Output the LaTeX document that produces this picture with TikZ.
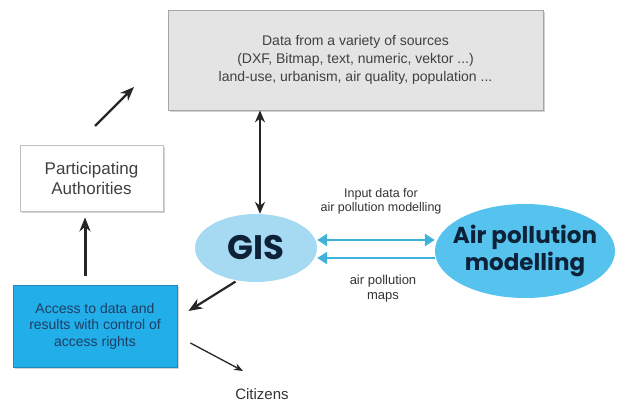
\documentclass[tikz,border=0pt]{standalone}
\usepackage{fontspec}
\setmainfont{Liberation Sans}
\newfontfamily\headfont{Poppins}[BoldFont={Poppins Bold}]
\usetikzlibrary{arrows.meta,shapes.geometric,shadows}
\definecolor{datagray}{RGB}{228,228,228}
\definecolor{gisblue}{RGB}{166,217,242}
\definecolor{apmblue}{RGB}{85,195,238}
\definecolor{accessblue}{RGB}{34,174,232}
\definecolor{navytext}{RGB}{13,34,56}
\definecolor{accesstext}{RGB}{30,62,100}
\definecolor{linkblue}{RGB}{62,178,216}
\begin{document}
\begin{tikzpicture}[x=1pt, y=-1pt,
                    box_style/.style={rectangle, draw=gray!70, line width=0.8pt, align=center, inner sep=0pt,
                                      drop shadow={opacity=0.35, shadow xshift=2pt, shadow yshift=-2pt}},
                    ellipse_style/.style={ellipse, draw=none, inner sep=0pt, align=center, text=navytext},
                    label_style/.style={align=center, font=\fontsize{12.5}{14}\selectfont, text=black!80},
                    arrow_style/.style={draw=black!85, line width=3pt, -{Stealth[length=14pt,width=11pt]}},
                    blue_arrow_style/.style={draw=linkblue, line width=2.4pt, {Triangle[length=10pt,width=12pt]}-{Triangle[length=10pt,width=12pt]}}]
                    \useasboundingbox (0,0) rectangle (618,406);
                    \node[box_style, fill=datagray, minimum width=375pt, minimum height=100pt,
                          font=\fontsize{14}{18}\selectfont, text=black!75] (data) at (355.5,60)
                          {Data from a variety of sources\\(DXF, Bitmap, text, numeric, vektor ...)\\land-use, urbanism, air quality, population ...};
                    \node[box_style, fill=white, draw=gray!50, minimum width=143pt, minimum height=66pt,
                          font=\fontsize{17}{20}\selectfont, text=black!75] (auth) at (91.5,178)
                          {Participating\\Authorities};
                    \node[box_style, fill=accessblue, draw=accessblue!80!black, minimum width=164pt, minimum height=82pt,
                          font=\fontsize{14}{16.5}\selectfont, text=accesstext] (access) at (95,326)
                          {Access to data and\\results with control of\\access rights};
                    \node[ellipse_style, fill=gisblue, minimum width=122pt, minimum height=68pt,
                          font=\headfont\bfseries\fontsize{34}{36}\selectfont] (gis) at (256,248) {GIS};
                    \node[ellipse_style, fill=apmblue, minimum width=180pt, minimum height=94pt, inner xsep=-30pt, inner ysep=-12pt,
                          font=\headfont\bfseries\fontsize{23}{27}\selectfont] (apm) at (525,251)
                          {Air pollution\\modelling};
                    \node[font=\fontsize{15}{17}\selectfont, text=black!80] (citizens) at (262,394) {Citizens};
                    \node[label_style] (input_label) at (381,201) {Input data for\\air pollution modelling};
                    \node[label_style, font=\fontsize{13}{15}\selectfont] (maps_label) at (383,289) {air pollution\\maps};
                    \coordinate (up_start) at (95,126);
                    \coordinate (up_end) at (134,87);
                    \draw[arrow_style, line width=2.4pt] (up_start) -- (up_end);
                    \draw[arrow_style, shorten <=9pt, shorten >=6pt] ([xshift=-10pt]access.north) -- ([xshift=-6.5pt]auth.south);
                    \draw[arrow_style, line width=2.6pt, {Stealth[length=12pt,width=10pt]}-{Stealth[length=12pt,width=10pt]}]
                          ([xshift=4pt]gis.north |- data.south) -- ([xshift=4pt]gis.north);
                    \draw[arrow_style, line width=2.2pt, shorten <=2pt] (gis.240) -- ([xshift=11pt, yshift=15pt]access.east);
                    \draw[arrow_style, line width=1.3pt, -{Stealth[length=9pt,width=7pt]}]
                          ([xshift=13pt, yshift=-17pt]access.east) -- ([xshift=-19pt, yshift=14pt]citizens.north);
                    \draw[blue_arrow_style] ([yshift=8pt]gis.east) -- ([yshift=8pt]gis.east -| apm.west);
                    \draw[blue_arrow_style, {Triangle[length=10pt,width=12pt]}-] ([yshift=-10pt]gis.east) -- ([yshift=-10pt]gis.east -| apm.west);
                \end{tikzpicture}
\end{document}
